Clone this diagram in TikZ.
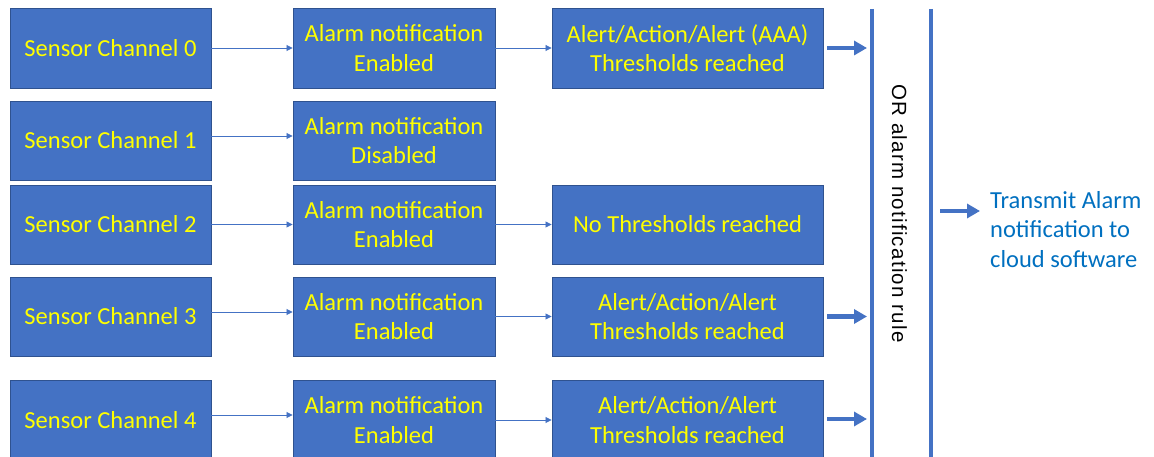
\documentclass[tikz,border=0pt]{standalone}
\usepackage{fontspec}
\setmainfont{Carlito}
\newfontfamily\rulefont[LetterSpace=6]{Liberation Sans}
\usetikzlibrary{arrows.meta}
\definecolor{boxblue}{HTML}{4472C4}
\definecolor{boxedge}{HTML}{2F528F}
\definecolor{txtyellow}{HTML}{FFFF00}
\definecolor{linkblue}{HTML}{0070C0}
\begin{document}
\begin{tikzpicture}[x=1pt,y=-1pt,
  chbox/.style={draw=boxedge, line width=0.9pt, fill=boxblue, text=txtyellow,
    align=center, font=\fontsize{24.5}{29.6}\selectfont, inner sep=0pt, minimum height=79pt},
  colone/.style={chbox, minimum width=201pt},
  coltwo/.style={chbox, minimum width=202pt},
  colthree/.style={chbox, minimum width=271pt},
  thinarrow/.style={draw=boxblue, line width=0.8pt, -{Triangle[length=6pt,width=6pt]}},
  fatarrow/.style={draw=boxblue, line width=4.5pt, -{Triangle[length=13pt,width=14pt]}},
  barline/.style={draw=boxblue, line width=4pt}
]
\clip (0,0) rectangle (1154,457);
\fill[white] (0,0) rectangle (1154,457);

% column 1
\node[colone, minimum height=80pt] (s0) at (110.5,48) {Sensor Channel 0};
\node[colone] (s1) at (110.5,140.5) {Sensor Channel 1};
\node[colone] (s2) at (110.5,224.5) {Sensor Channel 2};
\node[colone] (s3) at (110.5,316.5) {Sensor Channel 3};
\node[colone, minimum height=80pt] (s4) at (110.5,420) {Sensor Channel 4};

% column 2
\node[coltwo, minimum height=80pt] (a0) at (394,48) {Alarm notification\\Enabled};
\node[coltwo] (a1) at (394,140.5) {Alarm notification\\Disabled};
\node[coltwo] (a2) at (394,224.5) {Alarm notification\\Enabled};
\node[coltwo] (a3) at (394,316.5) {Alarm notification\\Enabled};
\node[coltwo, minimum height=80pt] (a4) at (394,420) {Alarm notification\\Enabled};

% column 3
\node[colthree, minimum height=80pt] (t0) at (687.5,48) {Alert/Action/Alert (AAA)\\Thresholds reached};
\node[colthree] (t2) at (687.5,224.5) {No Thresholds reached};
\node[colthree] (t3) at (687.5,316.5) {Alert/Action/Alert\\Thresholds reached};
\node[colthree, minimum height=80pt] (t4) at (687.5,420) {Alert/Action/Alert\\Thresholds reached};

% thin connectors
\draw[thinarrow] (s0.east) -- (a0.west);
\draw[thinarrow] ([yshift=4.5pt]s1.east) -- ([yshift=4.5pt]a1.west);
\draw[thinarrow] (s2.east) -- (a2.west);
\draw[thinarrow] ([yshift=4.5pt]s3.east) -- ([yshift=4.5pt]a3.west);
\draw[thinarrow] ([yshift=5pt]s4.east) -- ([yshift=5pt]a4.west);
\draw[thinarrow] (a0.east) -- (t0.west);
\draw[thinarrow] (a2.east) -- (t2.west);
\draw[thinarrow] (a3.east) -- (t3.west);
\draw[thinarrow] (a4.east) -- (t4.west);

% OR rule bars
\coordinate (v1t) at (872,9);
\coordinate (v1b) at (872,460);
\coordinate (v2t) at (931,9);
\coordinate (v2b) at (931,460);
\draw[barline] (v1t) -- (v1b);
\draw[barline] (v2t) -- (v2b);
\node[rotate=-90, font=\rulefont\fontsize{20.5}{24}\selectfont, inner sep=0pt] (rule) at (899.5,213.5) {OR alarm notification rule};

% thick arrows into the rule
\draw[fatarrow, shorten >=5pt] ([xshift=4pt]t0.east) -- (t0.east -| v1t);
\draw[fatarrow, shorten >=5pt] ([xshift=4pt]t3.east) -- (t3.east -| v1t);
\draw[fatarrow, shorten >=5pt] ([xshift=4pt,yshift=1pt]t4.east) -- ([yshift=1pt]t4.east -| v1t);

% output
\node[anchor=west, align=left, text=linkblue, font=\fontsize{24.5}{29.6}\selectfont, inner sep=0pt] (tx) at (990,229.5) {Transmit Alarm\\notification to\\cloud software};
\coordinate (rs) at (940,211);
\draw[fatarrow] (rs) -- ([xshift=-10pt,yshift=18.5pt]tx.west);
\end{tikzpicture}
\end{document}
